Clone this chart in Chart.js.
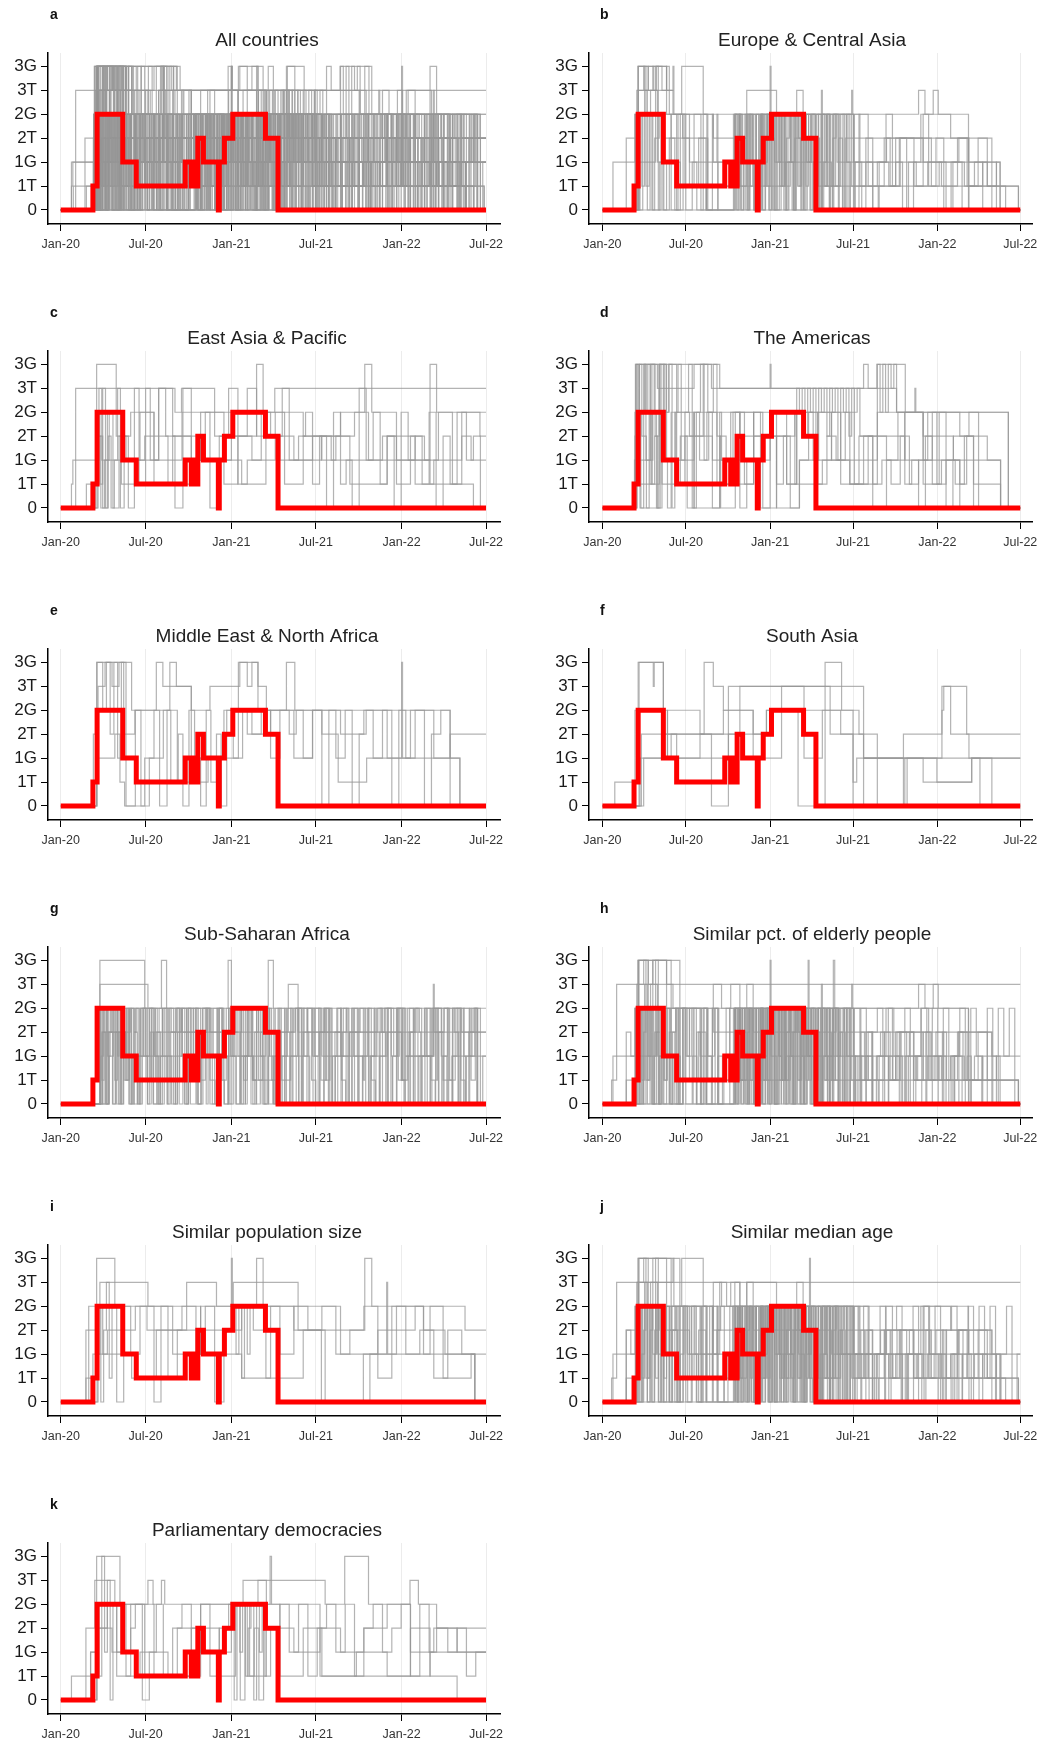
<!DOCTYPE html>
<html>
<head>
<meta charset="utf-8">
<script src="https://cdn.jsdelivr.net/npm/chart.js@4.4.1/dist/chart.umd.min.js"></script>
<style>
  html, body { margin: 0; padding: 0; background: #fff; overflow: hidden; }
  #wrap { position: relative; width: 1052px; height: 1744px; }
  #wrap canvas { position: absolute; }
</style>
</head>
<body>
<div id="wrap"></div>
<script>
// niveles del eje y (0 = sin restricción ... 3G = restricción general máxima)
const levelLabels = ['0', '1T', '1G', '2T', '2G', '3T', '3G'];
// días desde el 1 de enero de 2020 y sus etiquetas
const xTickDays = [0, 182, 366, 547, 731, 912];
const xTickLabels = ['Jan-20', 'Jul-20', 'Jan-21', 'Jul-21', 'Jan-22', 'Jul-22'];
const lastDay = 912;

// país de referencia (línea roja): [día, nivel, día, nivel, ...]
const refCountry = [0,0, 69,1, 78,4, 133,2, 162,1, 267,2, 280,1, 283,2, 286,1, 294,3, 306,2, 338,0, 340,2, 351,3, 369,4, 439,3, 466,0];

// Europe & Central Asia
const eu1 = [0,0, 23,2, 71,4, 78,6, 140,4, 242,3, 289,4, 548,3, 850,0];
const eu2 = [0,0, 52,3, 78,5, 154,6, 156,4, 173,6, 220,4, 242,2, 315,5, 380,4, 424,5, 438,4, 548,2, 868,0];
const eu3 = [0,0, 71,4, 78,6, 100,5, 110,6, 140,5, 154,4, 230,1, 289,4, 366,6, 368,4, 478,5, 480,4, 544,5, 546,4, 690,5, 704,4, 722,5, 733,4, 799,0];
const eu4 = [0,0, 75,5, 90,6, 95,4, 105,5, 120,2, 135,4, 150,0, 165,4, 180,1, 200,4, 215,0, 227,1, 289,4, 300,1, 315,4, 330,0, 345,4, 352,2, 360,4, 375,0, 390,4, 398,1, 410,4, 420,0, 435,4, 445,2, 455,4, 465,0, 480,4, 490,1, 505,4, 515,0, 530,3, 548,1, 908,0];
const eu5 = [0,0, 72,4, 76,0, 82,4, 86,1, 92,5, 98,0, 104,4, 110,2, 116,6, 122,0, 128,4, 134,0, 146,3, 158,0, 170,4, 182,0, 196,2, 206,0, 220,4, 228,0, 286,4, 292,0, 297,4, 302,0, 308,3, 313,0, 318,4, 323,1, 328,4, 334,0, 339,2, 344,4, 349,0, 355,4, 360,1, 366,4, 372,0, 378,4, 384,2, 390,4, 396,0, 402,3, 408,4, 414,0, 420,4, 426,1, 432,4, 438,0, 444,4, 450,2, 456,4, 462,0, 468,3, 474,0, 480,4, 486,1, 492,4, 498,0, 505,4, 512,2, 520,4, 528,0, 536,4, 544,1, 560,2, 580,1, 600,2, 625,1, 650,3, 680,1, 710,2, 740,1, 775,3, 800,1, 830,2, 860,0];
const eu6 = [0,0, 74,3, 80,0, 88,4, 95,1, 102,4, 108,0, 114,3, 124,4, 132,0, 140,2, 150,4, 162,0, 176,4, 190,1, 210,3, 226,0, 240,4, 252,0, 288,3, 294,0, 300,4, 306,2, 311,4, 316,0, 321,4, 326,2, 331,0, 336,4, 342,0, 347,4, 353,1, 358,4, 363,0, 369,3, 375,0, 381,4, 387,1, 393,4, 399,0, 405,4, 411,2, 417,0, 423,4, 429,1, 435,4, 441,0, 447,3, 453,0, 459,4, 465,1, 471,4, 477,0, 483,2, 489,4, 495,0, 502,4, 509,1, 516,3, 524,0, 532,4, 540,0, 552,2, 566,0, 575,2, 590,0, 602,1, 615,3, 628,1, 640,2, 655,0, 668,2, 685,1, 700,3, 718,1, 735,2, 750,0, 765,2, 785,0, 800,1, 820,3, 840,1, 860,2, 868,0];
const eu7 = [0,0, 80,2, 110,0, 125,2, 170,1, 227,0, 252,2, 300,1, 400,2, 500,1, 548,0, 560,1, 640,3, 700,2, 790,1, 908,0];
const eu8 = [0,0, 78,4, 130,3, 190,2, 250,4, 300,2, 348,4, 380,2, 420,3, 470,1, 520,2, 560,4, 580,2, 620,3, 700,4, 760,3, 799,2, 840,1, 880,0];
const eu9 = [0,0, 78,6, 92,5, 100,6, 112,5, 118,6, 130,5, 140,6, 146,4, 175,3, 230,0];
const eu10 = [0,0, 290,4, 295,1, 299,4, 304,0, 309,3, 313,4, 318,0, 322,4, 327,2, 332,0, 336,4, 341,1, 346,4, 350,0, 356,3, 361,4, 365,0, 370,4, 376,2, 381,0, 386,4, 391,1, 397,4, 401,0, 407,2, 412,4, 417,0, 422,4, 428,3, 433,0, 439,4, 444,1, 450,4, 455,0, 461,2, 467,4, 472,0, 478,4, 484,1, 490,4, 496,0, 503,3, 510,4, 517,0, 525,4, 533,2, 541,0, 550,4, 562,1, 575,3, 590,0, 604,2, 619,4, 633,1, 648,3, 664,0, 679,2, 695,4, 712,1, 728,3, 745,0, 761,2, 778,3, 796,1, 812,2, 830,0];

// East Asia & Pacific
const ea1 = [0,0, 32,5, 245,4, 259,5, 330,4, 459,5];
const ea2 = [0,0, 23,1, 26,2, 77,6, 119,3, 150,4, 200,2, 260,4, 330,3, 420,6, 434,4, 520,3, 600,4, 652,6, 667,4, 720,2, 792,6, 806,4, 899,3];
const ea3 = [0,0, 55,1, 77,3, 90,0, 100,4, 134,2, 180,3, 230,1, 290,2, 388,1, 440,3, 500,2, 559,3, 620,1, 700,2, 792,1, 885,0];
const ea4 = [0,0, 78,4, 84,1, 90,5, 96,0, 102,3, 108,0, 115,2, 122,5, 128,0, 136,3, 145,0, 158,5, 168,1, 182,5, 192,2, 210,5, 225,3, 245,0, 262,5, 280,2, 300,4, 320,0, 340,3, 360,5, 380,1, 400,2, 430,4, 450,3, 475,5, 490,2, 510,3, 525,4, 540,1, 555,3, 570,0, 585,4, 600,1, 612,2, 625,0, 640,5, 655,2, 670,4, 685,1, 700,3, 715,0, 730,4, 745,2, 760,3, 775,1, 790,4, 805,0, 820,3, 835,1, 850,4, 870,2, 885,3, 900,0];
const ea5 = [0,0, 80,3, 86,0, 94,2, 104,4, 112,0, 125,3, 140,2, 170,4, 200,1, 240,3, 280,2, 310,4, 350,1, 380,3, 410,2, 460,4, 480,1, 520,3, 560,2, 590,3, 630,4, 660,2, 690,3, 720,1, 750,3, 780,2, 810,4, 840,1, 860,3, 880,2];
const ea6 = [0,0, 75,2, 82,5, 88,2, 130,1, 160,2, 210,5, 240,3, 300,2, 366,3, 400,5, 420,3, 470,2, 540,3, 580,2, 700,3, 760,1, 800,2, 860,4];

// The Americas
const am1 = [0,0, 74,6, 238,5, 366,6, 368,5, 642,4, 886,0];
const am2 = [0,0, 67,1, 71,4, 92,6, 120,5, 200,6, 256,5, 570,6, 580,5, 599,6, 661,4, 682,5, 684,4, 821,1, 869,0];
const am3 = [0,0, 71,3, 80,6, 95,2, 105,6, 115,3, 125,6, 135,4, 145,6, 162,4, 190,3, 220,6, 230,4, 260,2, 300,4, 366,3, 402,1, 424,5, 430,4, 436,5, 442,3, 448,5, 454,4, 460,5, 466,2, 472,5, 478,4, 484,5, 490,3, 496,5, 502,4, 508,5, 514,2, 520,5, 526,4, 532,5, 538,3, 544,5, 550,4, 556,5, 562,3, 600,6, 606,4, 612,6, 618,4, 624,6, 630,5, 636,6, 642,4, 700,3, 766,2, 869,0];
const am4 = [0,0, 72,1, 78,4, 84,0, 90,3, 96,0, 102,4, 108,1, 114,3, 120,0, 126,4, 134,2, 142,0, 150,4, 160,1, 170,3, 185,0, 200,4, 212,2, 228,4, 240,0, 256,3, 270,1, 285,4, 300,0, 315,2, 330,4, 345,0, 366,4, 380,1, 395,3, 410,0, 430,2, 450,4, 470,1, 490,3, 510,2, 530,4, 550,1, 570,3, 590,1, 610,2, 630,1, 650,3, 670,1, 690,2, 710,4, 730,1, 750,2, 770,1, 790,3, 810,1, 821,0];
const am5 = [0,0, 70,2, 110,4, 130,1, 180,3, 240,2, 280,4, 330,2, 366,4, 420,1, 480,2, 540,1, 600,3, 660,2, 720,4, 780,3, 840,2, 869,0];
const am6 = [0,0, 72,6, 80,1, 125,6, 140,2, 162,4, 200,0, 256,4, 300,3, 366,4, 402,1, 424,4, 500,2, 600,4, 700,2, 766,3, 800,4, 886,0];
const am7 = [0,0, 76,4, 82,0, 130,2, 200,4, 250,1, 330,3, 380,0, 430,2, 470,4, 520,1, 560,3, 590,0, 620,2, 645,4, 660,1, 675,2, 690,0, 705,3, 720,1, 735,4, 750,0, 765,2, 780,1, 795,3, 810,0];
const am8 = [0,0, 73,6, 77,2, 81,6, 86,3, 90,6, 95,4, 99,6, 104,1, 108,6, 113,4, 118,0, 123,6, 128,2, 133,6, 139,4, 145,6, 152,0, 158,4, 165,6, 172,2, 180,4, 188,6, 196,0, 205,4, 214,6, 222,2, 232,4, 242,6, 250,3, 258,0, 290,4, 310,1, 330,4, 350,0, 380,3, 420,4, 460,2, 500,4, 540,1, 580,3, 620,2, 660,4, 700,1, 740,2, 780,0];

// Middle East & North Africa
const me1 = [0,0, 77,6, 152,4, 205,6, 219,5, 280,4, 320,5, 384,6, 423,5, 441,4, 484,6, 502,4, 835,2, 856,0];
const me2 = [0,0, 70,3, 80,5, 95,6, 110,5, 125,6, 135,3, 159,4, 234,6, 248,5, 280,2, 381,6, 400,5, 410,6, 423,4, 560,3, 595,1, 656,2, 731,6, 733,2, 856,0];
const me3 = [0,0, 77,2, 116,3, 127,1, 137,0, 180,2, 220,4, 250,1, 298,1, 316,2, 350,4, 400,3, 450,4, 500,2, 540,4, 600,3, 650,4, 700,2, 750,4, 800,2, 835,3];
const me4 = [0,0, 78,6, 90,4, 98,6, 106,3, 114,6, 122,2, 130,6, 140,0, 160,4, 172,0, 190,2, 200,4, 212,0, 228,4, 236,1, 252,3, 262,0, 275,4, 287,2, 300,0, 312,4, 322,1, 334,3, 344,0, 356,4, 370,2, 390,4, 410,3, 430,4, 450,2, 470,4, 490,3, 505,4, 520,2, 540,4, 560,0, 575,4, 590,2, 610,4, 625,0, 640,3, 655,4, 670,2, 690,4, 710,0, 725,4, 740,2, 760,4, 780,0, 795,3, 815,4, 835,0];

// South Asia
const sa1 = [0,0, 27,1, 71,4, 78,6, 111,5, 113,6, 133,4, 142,2, 213,3, 264,4, 329,3, 358,4, 520,3, 570,2, 700,1, 806,2];
const sa2 = [0,0, 80,6, 133,3, 222,6, 242,5, 264,4, 329,2, 391,5, 570,2, 657,3, 741,4, 745,5, 795,3];
const sa3 = [0,0, 82,2, 142,4, 213,3, 238,0, 275,5, 497,3, 547,1, 555,2, 657,0, 665,2, 730,1, 806,2];
const sa4 = [0,0, 85,3, 162,2, 275,3, 358,4, 427,0, 486,6, 522,4, 547,0, 570,2, 741,5, 760,3, 800,2, 824,0];
const sa5 = [0,0, 90,2, 150,3, 300,5, 440,2, 480,4, 560,3, 600,0, 660,2, 850,0];

// Sub-Saharan Africa
const ss1 = [0,0, 84,6, 180,4, 216,6, 227,4, 359,6, 366,4, 445,6, 456,4];
const ss2 = [0,0, 84,5, 187,4, 260,3, 488,5, 509,3, 799,5, 801,3];
const ss3 = [0,0, 84,4, 90,0, 95,4, 100,2, 106,4, 112,0, 118,3, 124,0, 130,4, 136,1, 142,4, 148,0, 154,2, 160,4, 166,0, 175,4, 182,2, 190,4, 198,0, 206,3, 214,0, 222,4, 230,2, 238,0, 246,4, 254,0, 262,2, 270,4, 278,0, 290,4, 300,1, 310,4, 320,0, 330,2, 340,4, 350,0, 360,4, 368,2, 376,0, 384,4, 392,1, 400,4, 408,0, 416,3, 424,4, 432,0, 440,4, 448,2, 456,0, 470,4, 480,0, 492,2, 504,4, 516,0, 528,4, 540,2, 552,0, 564,4, 576,0, 588,3, 600,4, 612,0, 624,4, 636,2, 648,0, 660,4, 672,0, 684,2, 696,4, 708,0, 720,4, 732,1, 744,4, 756,0, 768,2, 780,4, 792,0, 804,4, 816,2, 828,0, 840,4, 852,0, 864,4, 876,2, 888,4, 900,0];
const ss4 = [0,0, 86,2, 92,4, 98,0, 104,3, 110,4, 116,1, 122,4, 128,0, 134,2, 140,4, 146,0, 152,4, 158,3, 164,0, 170,2, 178,4, 186,0, 194,4, 202,2, 210,0, 218,4, 226,1, 234,4, 242,0, 250,3, 258,4, 266,0, 274,2, 284,4, 295,0, 305,4, 315,2, 325,0, 335,4, 345,1, 355,4, 363,0, 371,3, 380,4, 388,0, 396,2, 404,4, 412,1, 420,4, 428,2, 436,0, 444,4, 452,1, 460,0, 475,2, 486,4, 498,0, 510,4, 522,2, 534,0, 546,4, 558,1, 570,4, 582,0, 594,2, 606,4, 618,0, 630,3, 642,4, 654,0, 666,2, 678,4, 690,0, 702,4, 714,2, 726,4, 738,0, 750,3, 762,4, 774,0, 786,2, 798,4, 810,0, 822,4, 834,1, 846,4, 858,0, 870,2, 882,4, 894,0, 905,2];
const ss5 = [0,0, 88,3, 140,2, 200,3, 300,2, 413,1, 459,2, 520,3, 600,2, 700,3, 731,1, 740,2, 800,3, 820,1, 840,2];
const ss6 = [0,0, 102,3, 150,4, 200,2, 260,4, 320,3, 380,2, 440,3, 500,4, 560,2, 620,3, 680,4, 740,2, 800,4, 860,3];
const ss7 = [0,0, 85,4, 88,1, 93,4, 99,0, 102,4, 108,3, 111,0, 117,4, 122,2, 125,4, 131,0, 135,4, 142,1, 146,4, 151,0, 158,3, 162,4, 169,0, 172,4, 178,2, 186,0, 190,4, 195,1, 203,4, 207,0, 214,2, 219,4, 228,0, 232,4, 237,3, 246,0, 250,4, 258,2, 261,4, 270,0, 274,4, 280,1, 289,4, 292,0, 300,3, 304,4, 312,0, 316,4, 324,2, 327,4, 336,0, 340,4, 348,1, 351,0, 360,4, 364,2, 372,4, 376,0, 385,3, 388,4, 396,0, 400,4, 409,2, 412,0, 420,4, 424,1, 433,4, 436,0, 445,2, 448,4, 457,0, 460,4, 468,3, 472,0, 481,4, 484,1, 493,4, 496,0, 505,2, 508,4, 517,0, 520,4, 529,3, 532,0, 541,4, 544,2, 553,4, 556,0, 565,4, 568,1, 577,4, 580,0, 589,2, 592,4, 601,0, 604,3, 613,4, 616,0, 625,4, 628,2, 637,0, 640,4, 649,1, 652,4, 661,0, 664,2, 673,4, 676,0, 685,4, 688,3, 697,0, 700,4, 709,2, 712,0, 721,4, 724,1, 733,4, 736,0, 745,2, 748,4, 757,0, 760,4, 769,3, 772,0, 781,4, 784,2, 793,0, 796,4, 805,1, 808,4, 817,0, 820,2, 829,4, 832,0, 841,4, 844,3, 853,0, 856,4, 865,2, 868,0, 877,4, 880,1, 889,4, 892,0];
const ss8 = [0,0, 90,3, 96,0, 104,2, 113,4, 120,0, 127,3, 139,1, 147,4, 156,0, 165,2, 171,4, 183,1, 192,3, 199,0, 211,4, 218,2, 229,0, 236,3, 248,4, 255,1, 266,0, 273,4, 285,2, 294,0, 302,3, 313,4, 320,1, 331,0, 338,4, 347,2, 358,0, 367,3, 374,4, 386,0, 392,2, 403,4, 411,1, 419,0, 428,3, 439,4, 446,0, 455,2, 466,4, 473,1, 484,0, 491,3, 503,4, 511,0, 519,2, 530,4, 538,1, 547,0, 555,3, 566,4, 574,0, 583,2, 594,4, 602,1, 611,0, 619,3, 630,4, 638,0, 647,2, 658,4, 666,1, 675,0, 683,3, 694,4, 702,0, 711,2, 722,4, 730,1, 739,0, 747,3, 758,4, 766,0, 775,2, 786,4, 794,1, 803,0, 811,3, 822,4, 830,0, 839,2, 850,4, 858,1, 867,0, 875,3, 886,4, 894,0];

// Similar pct. of elderly people / similar median age (extra countries)
const el1 = [0,0, 20,1, 31,5];
const el2 = [0,0, 52,3, 62,2, 78,6, 169,4, 213,2, 245,4, 449,6, 451,4, 504,6, 507,4, 799,3, 850,2];
const el3 = [0,0, 52,1, 80,6, 100,4, 110,6, 150,4, 242,5, 260,4, 280,5, 300,4, 315,5, 329,3, 500,2, 700,1, 908,0];
const el4 = [0,0, 72,4, 77,1, 81,4, 86,0, 90,3, 95,4, 99,1, 104,4, 108,0, 113,2, 118,4, 123,0, 128,4, 134,1, 140,4, 146,0, 153,3, 160,4, 168,0, 176,4, 185,2, 195,4, 205,0, 216,4, 228,1, 240,4, 252,0, 265,2, 278,4, 290,0, 296,4, 301,1, 306,4, 311,0, 316,3, 321,4, 326,0, 331,4, 336,2, 341,0, 346,4, 351,1, 356,4, 361,0, 366,3, 371,4, 376,0, 381,4, 386,2, 391,0, 396,4, 401,1, 406,4, 411,0, 416,3, 421,4, 426,0, 431,4, 436,2, 441,0, 446,4, 451,1, 456,4, 461,0, 466,3, 471,4, 476,0, 481,4, 486,2, 491,0, 496,4, 502,1, 508,4, 514,0, 520,3, 527,4, 534,0, 541,4, 548,2, 556,0, 564,3, 572,1, 580,3, 589,0, 598,2, 607,3, 616,0, 625,2, 634,1, 643,3, 652,0, 661,2, 670,3, 679,1, 688,2, 697,0, 706,3, 715,1, 724,2, 733,0, 742,3, 751,1, 760,2, 769,0, 778,3, 787,1, 796,2, 805,0];
const ma2 = [0,0, 52,3, 62,2, 78,6, 169,4, 213,2, 256,5, 271,4, 289,5, 300,4, 452,6, 454,4, 799,3, 850,2];

// Similar population size
const po1 = [0,0, 54,3, 77,6, 116,4, 200,3, 300,4, 366,6, 368,4, 420,6, 434,4, 600,3, 652,6, 667,4, 778,3, 824,2, 888,0];
const po2 = [0,0, 54,1, 69,2, 84,5, 187,4, 270,5, 334,4, 370,5, 509,3, 567,0, 649,2, 699,5, 701,2, 888,0];
const po3 = [0,0, 60,4, 90,2, 152,1, 205,3, 260,4, 300,2, 388,1, 450,4, 500,3, 559,0, 663,2, 720,4, 778,2, 792,4, 867,3];
const po4 = [0,0, 80,4, 86,0, 92,3, 98,5, 104,1, 110,4, 120,0, 135,4, 150,2, 170,4, 185,3, 200,0, 215,4, 230,1, 250,3, 270,4, 290,2, 310,4, 330,0, 350,3, 370,4, 376,2, 382,4, 388,1, 394,4, 400,2, 406,4, 413,3, 440,4, 470,2, 500,4, 530,3, 560,4, 590,2, 620,3, 650,4, 680,1, 710,4, 740,2, 770,3, 800,1, 830,3, 860,2, 888,0];
const po5 = [0,0, 78,2, 100,3, 160,4, 240,2, 300,3, 388,4, 440,1, 520,3, 600,2, 680,3, 760,4, 820,1, 880,2];

// Parliamentary democracies
const pd1 = [0,0, 23,1, 64,2, 77,6, 127,4, 187,5, 198,4, 216,5, 223,4, 391,5, 567,4, 609,6, 660,4, 749,5, 767,4, 806,3];
const pd2 = [0,0, 54,3, 73,5, 116,4, 180,1, 300,4, 423,5, 441,4, 449,6, 452,4, 556,1, 792,2];
const pd3 = [0,0, 77,4, 82,1, 88,6, 94,2, 100,5, 106,0, 112,4, 120,2, 130,4, 140,1, 150,3, 160,4, 175,0, 190,2, 205,4, 220,1, 240,3, 260,4, 280,2, 300,4, 320,1, 340,3, 360,4, 372,0, 378,4, 384,2, 390,4, 396,1, 402,3, 408,4, 414,0, 420,4, 426,2, 432,4, 438,1, 450,3, 470,4, 490,2, 510,4, 530,1, 550,3, 570,4, 590,2, 610,4, 630,1, 650,3, 670,4, 690,2, 710,3, 730,4, 750,1, 770,4, 790,2, 806,3, 830,2, 850,3, 870,1, 890,2];
const pd4 = [0,0, 64,2, 80,3, 110,2, 150,4, 200,1, 250,3, 300,2, 366,4, 400,1, 441,3, 500,2, 556,3, 600,2, 650,3, 700,4, 750,2, 800,3, 850,2];
const pd5 = [0,0, 78,3, 100,4, 120,1, 170,2, 230,1, 280,3, 340,1, 375,4, 385,0, 395,4, 405,1, 415,3, 425,0, 435,4, 470,1, 520,3, 560,1, 634,2, 700,1, 750,3, 792,1, 850,0];

const europe = [eu1, eu2, eu3, eu4, eu5, eu6, eu7, eu8, eu9, eu10];
const eastAsia = [ea1, ea2, ea3, ea4, ea5, ea6];
const americas = [am1, am2, am3, am4, am5, am6, am7, am8];
const mena = [me1, me2, me3, me4];
const southAsia = [sa1, sa2, sa3, sa4, sa5];
const subSahara = [ss1, ss2, ss3, ss4, ss5, ss6, ss7, ss8];
const elderly = [el1, el2, el3, el4, eu1, eu3, eu4, eu5, eu6, eu7, eu10, ss3];
const medianAge = [el1, ma2, el3, el4, eu1, eu2, eu4, eu5, eu6, eu8, eu10, ss4];
const popSize = [po1, po2, po3, po4, po5];
const parliament = [pd1, pd2, pd3, pd4, pd5];

const panels = [
  { letter: 'a', title: 'All countries', series: [...europe, ...eastAsia, ...americas, ...mena, ...southAsia, ...subSahara] },
  { letter: 'b', title: 'Europe & Central Asia', series: europe },
  { letter: 'c', title: 'East Asia & Pacific', series: eastAsia },
  { letter: 'd', title: 'The Americas', series: americas },
  { letter: 'e', title: 'Middle East & North Africa', series: mena },
  { letter: 'f', title: 'South Asia', series: southAsia },
  { letter: 'g', title: 'Sub-Saharan Africa', series: subSahara },
  { letter: 'h', title: 'Similar pct. of elderly people', series: elderly },
  { letter: 'i', title: 'Similar population size', series: popSize },
  { letter: 'j', title: 'Similar median age', series: medianAge },
  { letter: 'k', title: 'Parliamentary democracies', series: parliament }
];

// geometría de cada columna
const columns = [
  { left: 0, axisW: 48, padRight: 26, xMin: -27.3, xMax: 942, titleX: 267, letterX: 50 },
  { left: 526, axisW: 63, padRight: 20, xMin: -29.3, xMax: 937.6, titleX: 286, letterX: 74 }
];
const FONT = '"Liberation Sans", Arial, sans-serif';

// convierte [día, nivel, ...] en puntos {x, y}
function toPoints(flat) {
  const pts = [];
  for (let i = 0; i < flat.length; i += 2) pts.push({ x: flat[i], y: flat[i + 1] });
  const last = pts[pts.length - 1];
  if (last.x < lastDay) pts.push({ x: lastDay, y: last.y });
  return pts;
}

const labelsPlugin = {
  id: 'panelLabels',
  afterDraw(chart, args, opts) {
    const ctx = chart.ctx;
    ctx.save();
    ctx.fillStyle = '#111';
    ctx.font = 'bold 14px ' + FONT;
    ctx.textAlign = 'left';
    ctx.textBaseline = 'middle';
    ctx.fillText(opts.letter, opts.letterX, 15);
    ctx.fillStyle = '#222';
    ctx.font = '19px ' + FONT;
    ctx.textAlign = 'center';
    ctx.fillText(opts.title, opts.titleX, 41);
    ctx.restore();
  }
};

const wrap = document.getElementById('wrap');
panels.forEach((p, idx) => {
  const col = columns[idx % 2];
  const row = Math.floor(idx / 2);
  const canvas = document.createElement('canvas');
  canvas.width = 526;
  canvas.height = 298;
  canvas.style.width = '526px';
  canvas.style.height = '298px';
  canvas.style.left = col.left + 'px';
  canvas.style.top = (row * 298) + 'px';
  wrap.appendChild(canvas);

  const datasets = [{
    data: toPoints(refCountry),
    borderColor: '#ff0000',
    borderWidth: 5,
    stepped: true,
    pointRadius: 0,
    order: 0
  }];
  p.series.forEach(s => {
    datasets.push({
      data: toPoints(s),
      borderColor: 'rgba(150,150,150,0.72)',
      borderWidth: 1.2,
      stepped: true,
      pointRadius: 0,
      order: 1
    });
  });

  new Chart(canvas, {
    type: 'line',
    data: { datasets },
    options: {
      responsive: false,
      animation: false,
      events: [],
      layout: { padding: { top: 53, bottom: 39, left: 0, right: col.padRight } },
      plugins: {
        legend: { display: false },
        tooltip: { enabled: false },
        panelLabels: { letter: p.letter, title: p.title, titleX: col.titleX, letterX: col.letterX }
      },
      scales: {
        x: {
          type: 'linear',
          min: col.xMin,
          max: col.xMax,
          afterFit: s => { s.height = 35; },
          afterBuildTicks: s => { s.ticks = xTickDays.map(v => ({ value: v })); },
          ticks: {
            autoSkip: false,
            maxRotation: 0,
            padding: 6,
            color: '#333',
            font: { family: FONT, size: 12.5 },
            callback: (v, i) => xTickLabels[i]
          },
          grid: { color: '#ececec', tickColor: '#000', tickLength: 7, lineWidth: 1 },
          border: { display: true, color: '#000', width: 1.5 }
        },
        y: {
          type: 'linear',
          min: -0.586,
          max: 6.56,
          afterFit: s => { s.width = col.axisW; },
          afterBuildTicks: s => { s.ticks = levelLabels.map((l, i) => ({ value: i })); },
          ticks: {
            autoSkip: false,
            padding: 4,
            color: '#1a1a1a',
            font: { family: FONT, size: 17 },
            callback: v => levelLabels[v]
          },
          grid: { drawOnChartArea: false, tickColor: '#000', tickLength: 7 },
          border: { display: true, color: '#000', width: 1.5 }
        }
      }
    },
    plugins: [labelsPlugin]
  });
});
</script>
</body>
</html>
